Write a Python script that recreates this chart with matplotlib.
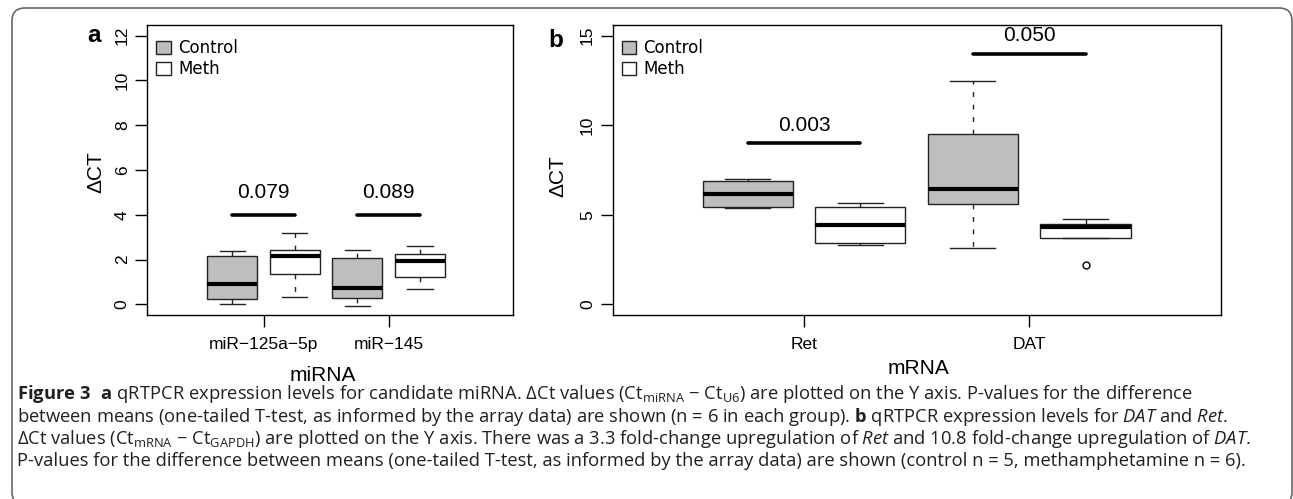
import matplotlib
matplotlib.use('Agg')
import matplotlib.pyplot as plt
from matplotlib.patches import Patch, FancyBboxPatch
from matplotlib.transforms import IdentityTransform

plt.rcParams['font.family'] = ['Liberation Sans', 'DejaVu Sans']
plt.rcParams['mathtext.fontset'] = 'custom'
plt.rcParams['mathtext.rm'] = 'Open Sans'
plt.rcParams['mathtext.it'] = 'Open Sans:italic'
plt.rcParams['mathtext.bf'] = 'Open Sans:bold'

# ── data (five-number summaries: whislo, q1, med, q3, whishi)
groups_a = ['miR\u2212125a\u22125p', 'miR\u2212145']
stats_a = [(0.03, 0.22, 0.90, 2.16, 2.38),    # miR-125a-5p control
           (0.31, 1.36, 2.16, 2.44, 3.18),    # miR-125a-5p meth
           (-0.10, 0.27, 0.73, 2.08, 2.43),   # miR-145 control
           (0.67, 1.24, 1.93, 2.26, 2.62)]    # miR-145 meth
fliers_a = [[], [], [], []]
pvals_a = ['0.079', '0.089']
bar_y_a = [4, 4]

groups_b = ['Ret', 'DAT']
stats_b = [(5.38, 5.46, 6.18, 6.87, 6.98),    # Ret control
           (3.30, 3.40, 4.43, 5.44, 5.63),    # Ret meth
           (3.14, 5.59, 6.42, 9.49, 12.49),   # DAT control
           (3.71, 3.71, 4.34, 4.46, 4.78)]    # DAT meth
fliers_b = [[], [], [], [2.21]]
pvals_b = ['0.003', '0.050']
bar_y_b = [9, 14]

series = ['Control', 'Meth']
fills = ['#BEBEBE', 'white']
EDGE = '#222222'

caption = [
    r"$\mathbf{Figure\ 3\ \ a}$ qRTPCR expression levels for candidate miRNA. $\Delta$Ct values (Ct$_{\mathrm{miRNA}}$ $-$ Ct$_{\mathrm{U6}}$) are plotted on the Y axis. P-values for the difference",
    r"between means (one-tailed T-test, as informed by the array data) are shown (n = 6 in each group). $\mathbf{b}$ qRTPCR expression levels for $\mathit{DAT}$ and $\mathit{Ret}$.",
    r"$\Delta$Ct values (Ct$_{\mathrm{mRNA}}$ $-$ Ct$_{\mathrm{GAPDH}}$) are plotted on the Y axis. There was a 3.3 fold-change upregulation of $\mathit{Ret}$ and 10.8 fold-change upregulation of $\mathit{DAT}$.",
    r"P-values for the difference between means (one-tailed T-test, as informed by the array data) are shown (control n = 5, methamphetamine n = 6).",
]

W, H = 1293, 499
fig = plt.figure(figsize=(W / 100, H / 100), dpi=100)


def px_axes(l, t, r, b):
    return fig.add_axes([l / W, 1 - b / H, (r - l) / W, (b - t) / H])


def panel(ax, stats, fliers, groups, pvals, bar_y, xlim, ylim, yticks):
    boxes = [dict(whislo=s[0], q1=s[1], med=s[2], q3=s[3], whishi=s[4], fliers=f)
             for s, f in zip(stats, fliers)]
    pos = [1, 2, 3, 4]
    art = ax.bxp(boxes, positions=pos, widths=0.8, capwidths=0.4,
                 patch_artist=True, showfliers=True,
                 boxprops=dict(edgecolor=EDGE, linewidth=1.0),
                 medianprops=dict(color='black', linewidth=3, solid_capstyle='butt'),
                 whiskerprops=dict(color=EDGE, linewidth=1.0, linestyle=(0, (3.5, 5.5))),
                 capprops=dict(color=EDGE, linewidth=1.0),
                 flierprops=dict(marker='o', markerfacecolor='none', markeredgecolor='black',
                                 markersize=5, markeredgewidth=1))
    for patch, c in zip(art['boxes'], fills * 2):
        patch.set_facecolor(c)

    for i, (p, y) in enumerate(zip(pvals, bar_y)):
        x0, x1 = pos[2 * i], pos[2 * i + 1]
        ax.plot([x0, x1], [y, y], color='black', lw=2.6, solid_capstyle='round')
        ax.text((x0 + x1) / 2, y + 1, p, ha='center', va='center', fontsize=15)

    ax.set_xlim(*xlim)
    ax.set_ylim(*ylim)
    ax.set_xticks([1.5, 3.5])
    ax.set_xticklabels(groups)
    ax.set_yticks(yticks)
    ax.tick_params(axis='both', length=8.6, width=1.0, labelsize=12.5, pad=4)
    ax.tick_params(axis='x', pad=7.5)
    ax.tick_params(axis='y', labelrotation=90)
    for t in ax.get_yticklabels():
        t.set_va('center')
    for sp in ax.spines.values():
        sp.set_linewidth(1.0)

    handles = [Patch(facecolor=c, edgecolor=EDGE, lw=1, label=s) for s, c in zip(series, fills)]
    ax.legend(handles=handles, loc='upper left', bbox_to_anchor=(0, 1 - 5 / 290),
              frameon=False, prop={'family': 'DejaVu Sans', 'size': 12},
              handlelength=0.85, handleheight=0.85, handletextpad=0.45,
              labelspacing=0.2, borderaxespad=0.35, borderpad=0.2)


ax_a = px_axes(147.3, 25, 512.5, 315)
panel(ax_a, stats_a, fliers_a, groups_a, pvals_a, bar_y_a,
      (-0.358, 5.478), (-0.48, 12.48), range(0, 13, 2))

ax_b = px_axes(612.5, 25, 1220.7, 315)
panel(ax_b, stats_b, fliers_b, groups_b, pvals_b, bar_y_b,
      (-0.2, 5.2), (-0.6, 15.6), range(0, 16, 5))

# axis titles and panel letters
fig.text(323 / W, 1 - 381 / H, 'miRNA', ha='center', va='baseline', fontsize=15)
fig.text(918 / W, 1 - 374 / H, 'mRNA', ha='center', va='baseline', fontsize=15)
fig.text(96 / W, 1 - 172 / H, '\u0394CT', ha='center', va='center', rotation=90, fontsize=15)
fig.text(558 / W, 1 - 176 / H, '\u0394CT', ha='center', va='center', rotation=90, fontsize=15)
fig.text(87 / W, 1 - 41.7 / H, 'a', ha='left', va='baseline', fontsize=17.5, fontweight='bold')
fig.text(548 / W, 1 - 46.7 / H, 'b', ha='left', va='baseline', fontsize=17.5, fontweight='bold')

# caption
for i, line in enumerate(caption):
    fig.text(17 / W, 1 - (399 + 22.5 * i) / H, line, ha='left', va='baseline',
             fontsize=13.2, family='Open Sans', color='#231F20')

# rounded frame around the figure
border = FancyBboxPatch((12, -6), 1280, 497, boxstyle='round,pad=0,rounding_size=13',
                        transform=IdentityTransform(), fill=False,
                        edgecolor='#666666', lw=1.2)
fig.patches.append(border)

fig.savefig('out.png', dpi=100)
